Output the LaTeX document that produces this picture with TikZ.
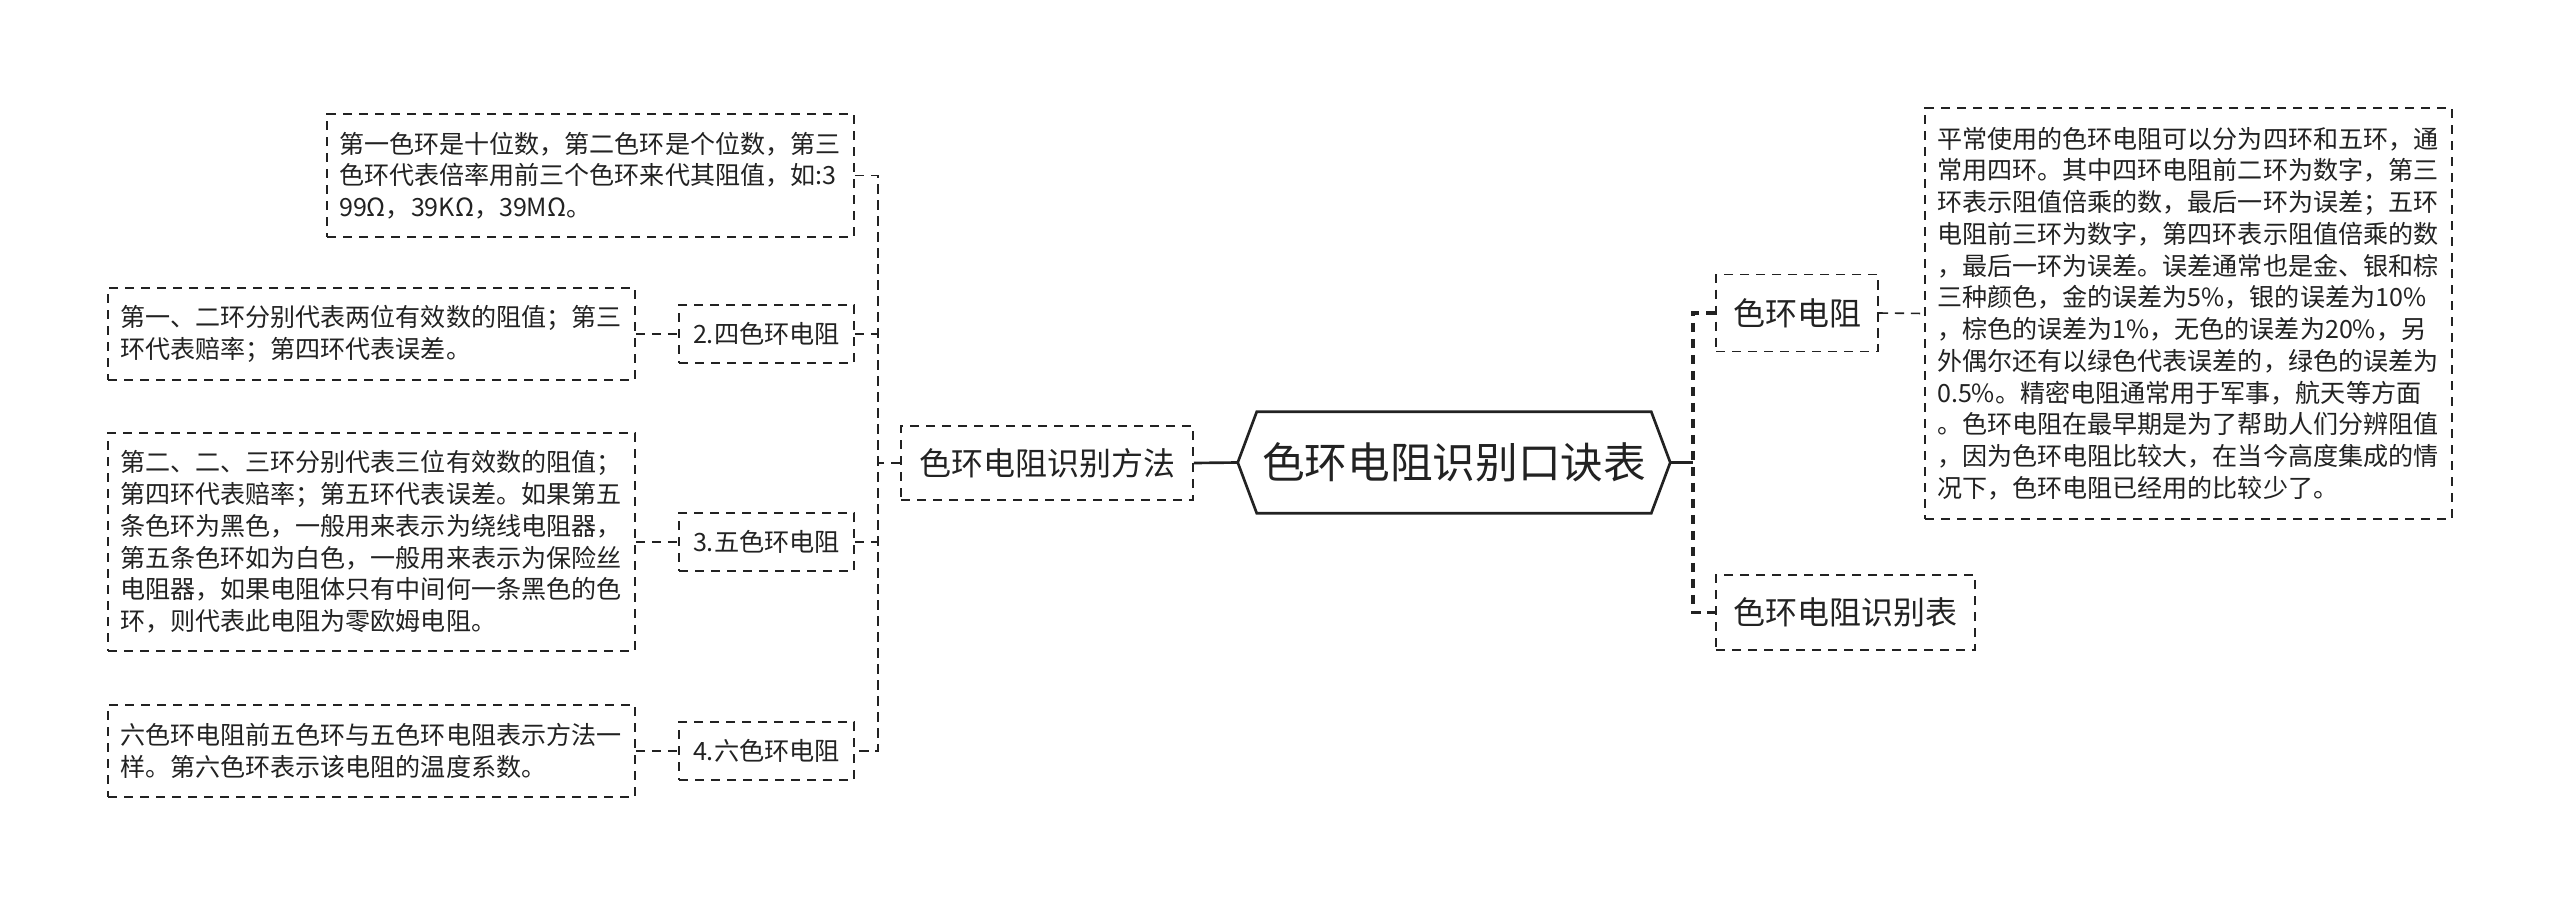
\documentclass[tikz,border=0pt]{standalone}
\usepackage{fontspec}
\newfontfamily\cjk{Noto Sans CJK SC}
\definecolor{ink}{HTML}{222222}
\begin{document}
\begin{tikzpicture}[x=0.75pt,y=-0.75pt,
  every node/.style={font=\cjk, text=ink},
  dbox/.style={draw=ink, line width=1.2pt, dash pattern=on 7pt off 5pt},
  para/.style={dbox, align=left, text width=377pt, inner xsep=9.1pt, inner ysep=0pt, font=\cjk\fontsize{18.8pt}{23.8pt}\selectfont},
  sub/.style={dbox, inner sep=0pt, minimum width=131.25pt, minimum height=43.5pt, font=\cjk\fontsize{18.9pt}{22pt}\selectfont},
  lvl/.style={dbox, inner sep=0pt, font=\cjk\fontsize{24pt}{28pt}\selectfont},
  conn/.style={draw=ink, line width=1.2pt, dash pattern=on 7pt off 5pt},
  bold/.style={draw=ink, line width=2pt},
  bconn/.style={draw=ink, line width=2.8pt, dash pattern=on 7pt off 5pt}]
\useasboundingbox (0,0) rectangle (2560,904);
\fill[white] (0,0) rectangle (2560,904);

% left text boxes
\node[para, minimum height=92.25pt] (A) at (590.5,175.5) {第一色环是十位数，第二色环是个位数，第三\\色环代表倍率用前三个色环来代其阻值，如:3\\99Ω，39KΩ，39MΩ。};
\node[para, minimum height=69pt] (B) at (371.5,334) {第一、二环分别代表两位有效数的阻值；第三\\环代表赔率；第四环代表误差。};
\node[para, minimum height=163.5pt] (C) at (371.5,542) {第二、二、三环分别代表三位有效数的阻值；\\第四环代表赔率；第五环代表误差。如果第五\\条色环为黑色，一般用来表示为绕线电阻器，\\第五条色环如为白色，一般用来表示为保险丝\\电阻器，如果电阻体只有中间何一条黑色的色\\环，则代表此电阻为零欧姆电阻。};
\node[para, minimum height=69pt] (D) at (371.5,751) {六色环电阻前五色环与五色环电阻表示方法一\\样。第六色环表示该电阻的温度系数。};

% sub nodes
\node[sub] (N2) at (766.5,334) {2.四色环电阻};
\node[sub] (N3) at (766.5,542) {3.五色环电阻};
\node[sub] (N4) at (766.5,751) {4.六色环电阻};

% level one
\node[lvl, minimum width=219pt, minimum height=55.5pt] (M) at (1047,463) {色环电阻识别方法};
\node[lvl, minimum width=121.5pt, minimum height=57.75pt] (R1) at (1797,313) {色环电阻};
\node[lvl, minimum width=194.25pt, minimum height=56.25pt] (R2) at (1845.5,612.5) {色环电阻识别表};

% big right box
\node[para, minimum height=308.25pt] (Big) at (2188.5,313.5) {平常使用的色环电阻可以分为四环和五环，通\\常用四环。其中四环电阻前二环为数字，第三\\环表示阻值倍乘的数，最后一环为误差；五环\\电阻前三环为数字，第四环表示阻值倍乘的数\\，最后一环为误差。误差通常也是金、银和棕\\三种颜色，金的误差为5\%，银的误差为10\%\\，棕色的误差为1\%，无色的误差为20\%，另\\外偶尔还有以绿色代表误差的，绿色的误差为\\0.5\%。精密电阻通常用于军事，航天等方面\\。色环电阻在最早期是为了帮助人们分辨阻值\\，因为色环电阻比较大，在当今高度集成的情\\况下，色环电阻已经用的比较少了。};

% central hexagon
\node[inner sep=0pt, minimum width=324pt, minimum height=75.75pt, font=\cjk\fontsize{32pt}{36pt}\selectfont] (H) at (1454,462.5) {色环电阻识别口诀表};
\draw[bold, line join=miter] (H.west) -- ([xshift=14.25pt]H.north west) -- ([xshift=-14.25pt]H.north east) -- (H.east) -- ([xshift=-14.25pt]H.south east) -- ([xshift=14.25pt]H.south west) -- cycle;

% left connectors
\coordinate (lt) at (878,463);
\draw[conn] (A.east) -- (lt |- A.east) -- (lt |- N4.east) -- (N4.east);
\draw[conn] (N2.east) -- (lt |- N2.east);
\draw[conn] (N3.east) -- (lt |- N3.east);
\draw[conn] (M.west) -- (lt);
\draw[conn] (B.east) -- (N2.west);
\draw[conn] (C.east) -- (N3.west);
\draw[conn] (D.east) -- (N4.west);
\draw[bold] (M.east) -- (H.west);

% right connectors
\coordinate (rt) at (1693,462.5);
\draw[bold] (H.east) -- (rt);
\draw[bconn] (R1.west) -- (rt |- R1.west) -- (rt |- R2.west) -- (R2.west);
\draw[conn] (R1.east) -- (Big.west);
\end{tikzpicture}
\end{document}
